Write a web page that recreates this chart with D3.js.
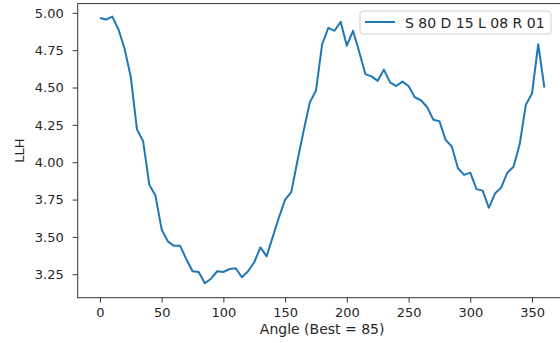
<!DOCTYPE html>
<html>
<head>
<meta charset="utf-8">
<script src="https://cdn.jsdelivr.net/npm/d3@7"></script>
<style>
  html, body { margin: 0; padding: 0; background: #fff; }
  svg { display: block; font-family: "DejaVu Sans", sans-serif; }
</style>
</head>
<body>
<div id="chart"></div>
<script>
// Angles sampled every 5 degrees
const angles = d3.range(0, 361, 5);

// LLH, one per angle
const llh = [
  4.965, 4.955, 4.975, 4.89, 4.76, 4.57, 4.22, 4.14, 3.85, 3.775,
  3.55, 3.47, 3.44, 3.44, 3.35, 3.27, 3.265, 3.19, 3.22, 3.27,
  3.265, 3.285, 3.29, 3.23, 3.27, 3.33, 3.43, 3.37, 3.50, 3.63,
  3.75, 3.80, 4.01, 4.21, 4.40, 4.48, 4.79, 4.90, 4.88, 4.94,
  4.78, 4.88, 4.74, 4.59, 4.575, 4.545, 4.62, 4.535, 4.51, 4.54,
  4.51, 4.435, 4.415, 4.37, 4.285, 4.275, 4.15, 4.105, 3.96, 3.915,
  3.93, 3.82, 3.81, 3.695, 3.79, 3.83, 3.93, 3.97, 4.12, 4.385,
  4.46, 4.79, 4.50
];

const xTicks = [0, 50, 100, 150, 200, 250, 300, 350];
const yTicks = [3.25, 3.50, 3.75, 4.00, 4.25, 4.50, 4.75, 5.00];

const seriesName = 'S 80 D 15 L 08 R 01';
const xTitle = 'Angle (Best = 85)';
const yTitle = 'LLH';

const width = 560, height = 343;
// axes box (right edge falls just outside the picture, as in the reference)
const box = { left: 77.7, right: 566.6, top: 3.6, bottom: 297.7 };

const svg = d3.select('#chart').append('svg')
  .attr('width', width)
  .attr('height', height);

const x = d3.scaleLinear().domain([-18, 378]).range([box.left, box.right]);
const y = d3.scaleLinear().domain([3.093, 5.062]).range([box.bottom, box.top]);

const axisColor = '#333';

// spines
svg.append('rect')
  .attr('x', box.left)
  .attr('y', box.top)
  .attr('width', box.right - box.left)
  .attr('height', box.bottom - box.top)
  .attr('fill', 'none')
  .attr('stroke', axisColor)
  .attr('stroke-width', 1);

// x axis
const xAxis = svg.append('g')
  .attr('transform', `translate(0,${box.bottom})`)
  .call(d3.axisBottom(x).tickValues(xTicks).tickSize(5).tickPadding(5).tickFormat(d3.format('d')));
xAxis.select('.domain').remove();
xAxis.selectAll('line').attr('stroke', axisColor);
xAxis.selectAll('text')
  .attr('fill', '#262626')
  .style('font-size', '13px')
  .style('font-family', '"DejaVu Sans", sans-serif');

// y axis
const yAxis = svg.append('g')
  .attr('transform', `translate(${box.left},0)`)
  .call(d3.axisLeft(y).tickValues(yTicks).tickSize(5).tickPadding(9).tickFormat(d3.format('.2f')));
yAxis.select('.domain').remove();
yAxis.selectAll('line').attr('stroke', axisColor);
yAxis.selectAll('text')
  .attr('fill', '#262626')
  .style('font-size', '13px')
  .style('font-family', '"DejaVu Sans", sans-serif');

// axis titles
svg.append('text')
  .attr('x', (box.left + box.right) / 2)
  .attr('y', 334)
  .attr('text-anchor', 'middle')
  .attr('fill', '#262626')
  .style('font-size', '14px')
  .text(xTitle);

svg.append('text')
  .attr('transform', `translate(24,${(box.top + box.bottom) / 2}) rotate(-90)`)
  .attr('text-anchor', 'middle')
  .attr('fill', '#262626')
  .style('font-size', '13px')
  .text(yTitle);

// the series
const line = d3.line()
  .x((d, i) => x(angles[i]))
  .y(d => y(d));

svg.append('path')
  .datum(llh)
  .attr('d', line)
  .attr('fill', 'none')
  .attr('stroke', '#1f77b4')
  .attr('stroke-width', 2)
  .attr('stroke-linejoin', 'round');

// legend, upper right
const legend = svg.append('g').attr('transform', 'translate(360,11)');
legend.append('rect')
  .attr('width', 191)
  .attr('height', 23)
  .attr('rx', 3)
  .attr('fill', '#fff')
  .attr('fill-opacity', 0.8)
  .attr('stroke', '#d0d0d0');
legend.append('line')
  .attr('x1', 5).attr('x2', 35)
  .attr('y1', 11).attr('y2', 11)
  .attr('stroke', '#1f77b4')
  .attr('stroke-width', 2);
legend.append('text')
  .attr('x', 45)
  .attr('y', 16.5)
  .attr('fill', '#262626')
  .style('font-size', '14px')
  .text(seriesName);
</script>
</body>
</html>
